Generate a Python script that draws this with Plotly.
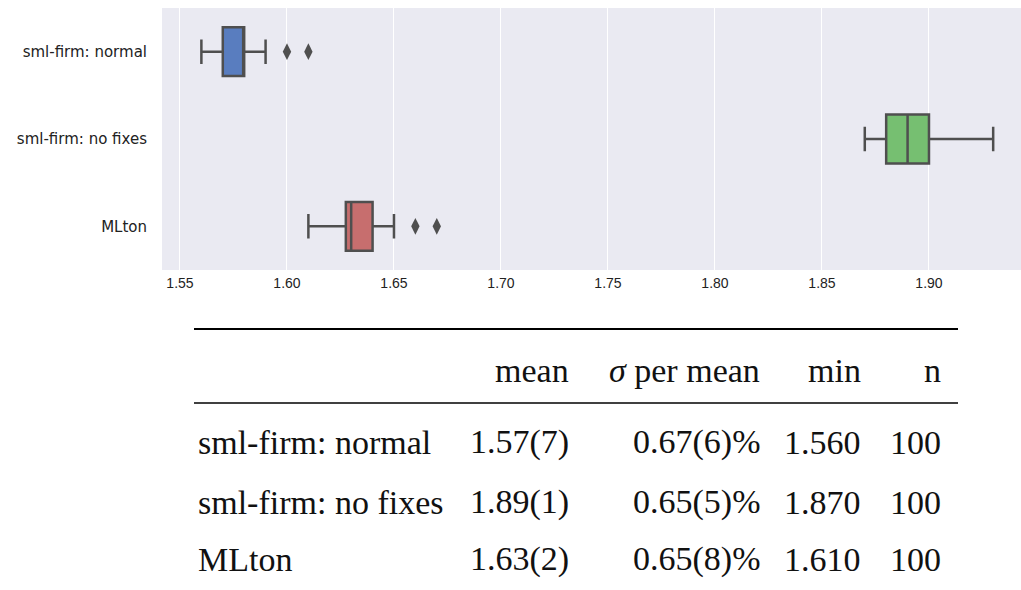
import plotly.graph_objects as go

# ---- data ----
categories = ["sml-firm: normal", "sml-firm: no fixes", "MLton"]
q1_vals = [1.57, 1.88, 1.6275]
median_vals = [1.58, 1.89, 1.63]
q3_vals = [1.58, 1.90, 1.64]
lower_vals = [1.56, 1.87, 1.61]
upper_vals = [1.59, 1.93, 1.65]
outlier_x = [[1.60, 1.61], [], [1.66, 1.67]]
box_colors = ["#597dbf", "#76bf71", "#c76e6e"]
x_ticks = [1.55, 1.60, 1.65, 1.70, 1.75, 1.80, 1.85, 1.90]
x_tick_labels = ["1.55", "1.60", "1.65", "1.70", "1.75", "1.80", "1.85", "1.90"]

table_header = ["mean", "<i>σ</i> per mean", "min", "n"]
table_labels = ["sml-firm: normal", "sml-firm: no fixes", "MLton"]
table_mean = ["1.57(7)", "1.89(1)", "1.63(2)"]
table_sigma = ["0.67(6)%", "0.65(5)%", "0.65(8)%"]
table_min = ["1.560", "1.870", "1.610"]
table_n = ["100", "100", "100"]

# ---- layout geometry (pixels) ----
W, H = 1021, 590
PL, PR, PT, PB = 162, 1021, 8, 270
EDGE = "#4f4f4f"

def px(x):
    return (x - PL) / (PR - PL)

def py(y):
    return (PB - y) / (PB - PT)

fig = go.Figure()
for i, cat in enumerate(categories):
    fig.add_trace(go.Box(
        y=[cat], q1=[q1_vals[i]], median=[median_vals[i]], q3=[q3_vals[i]],
        lowerfence=[lower_vals[i]], upperfence=[upper_vals[i]],
        orientation="h", fillcolor=box_colors[i],
        line=dict(color=EDGE, width=2.5), whiskerwidth=0.5,
        boxpoints=False, showlegend=False, hoverinfo="skip",
    ))
    if outlier_x[i]:
        fig.add_trace(go.Scatter(
            x=outlier_x[i], y=[cat] * len(outlier_x[i]), mode="markers",
            marker=dict(symbol="diamond-tall", size=12, color=EDGE),
            showlegend=False, hoverinfo="skip",
        ))

serif = "Liberation Serif, DejaVu Serif, serif"
FS = 34
ann = []
col_right = [571, 762, 863, 943]
header_y = 370
row_ys = [442, 502, 559]
for j, h in enumerate(table_header):
    ann.append(dict(x=px(col_right[j]), y=py(header_y), xref="paper", yref="paper",
                    text=h, showarrow=False, xanchor="right", yanchor="middle",
                    font=dict(family=serif, size=FS, color="#111")))
cols = [table_mean, table_sigma, table_min, table_n]
for r, lab in enumerate(table_labels):
    ann.append(dict(x=px(196), y=py(row_ys[r]), xref="paper", yref="paper",
                    text=lab, showarrow=False, xanchor="left", yanchor="middle",
                    font=dict(family=serif, size=FS, color="#111")))
    for j, col in enumerate(cols):
        ann.append(dict(x=px(col_right[j]), y=py(row_ys[r]), xref="paper", yref="paper",
                        text=col[r], showarrow=False, xanchor="right", yanchor="middle",
                        font=dict(family=serif, size=FS, color="#111")))

shapes = [
    dict(type="line", xref="paper", yref="paper", x0=px(194), x1=px(958),
         y0=py(329), y1=py(329), line=dict(color="#000", width=2.2)),
    dict(type="line", xref="paper", yref="paper", x0=px(194), x1=px(958),
         y0=py(403), y1=py(403), line=dict(color="#000", width=1.4)),
]

fig.update_layout(
    width=W, height=H,
    margin=dict(l=PL, r=W - PR, t=PT, b=H - PB),
    paper_bgcolor="white", plot_bgcolor="#eaeaf2",
    font=dict(family="DejaVu Sans, sans-serif", size=15, color="#222"),
    boxmode="overlay", boxgap=0.2,
    annotations=ann, shapes=shapes,
    xaxis=dict(range=[1.5416, 1.943], tickvals=x_ticks, ticktext=x_tick_labels,
               tickfont=dict(family="Liberation Sans, Arial, sans-serif", size=14, color="#222"),
               showgrid=True, gridcolor="white", gridwidth=1.3, zeroline=False,
               showline=False, ticks="", ticklabelstandoff=3),
    yaxis=dict(categoryorder="array", categoryarray=categories,
               range=[2.5, -0.5], showgrid=False, zeroline=False, showline=False,
               ticks="", ticklabelstandoff=14),
)

fig.write_html("out.html")
